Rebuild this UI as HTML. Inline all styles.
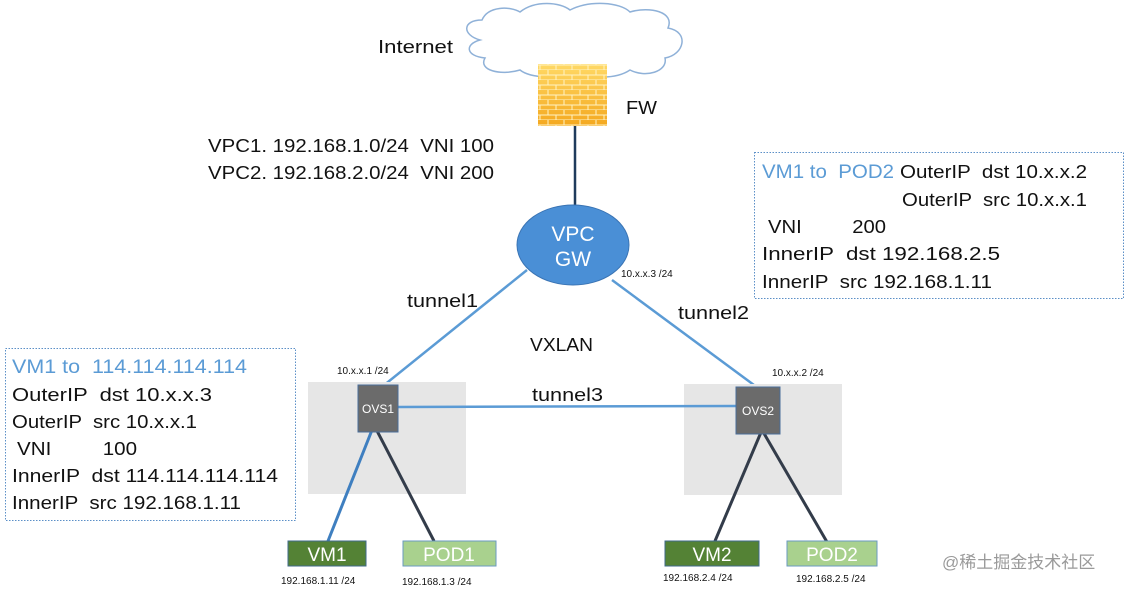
<!DOCTYPE html>
<html><head><meta charset="utf-8"><style>
body{margin:0;background:#fff;}
svg{display:block;font-family:"Liberation Sans","Noto Sans CJK SC",sans-serif;}
text{white-space:pre;}
</style></head><body>
<svg width="1128" height="590" viewBox="0 0 1128 590" xml:space="preserve">
<defs>
<linearGradient id="fw" x1="0" y1="0" x2="0" y2="1"><stop offset="0" stop-color="#ffd966"/><stop offset="1" stop-color="#f4a81f"/></linearGradient>
<pattern id="brick" width="16" height="10" patternUnits="userSpaceOnUse">
<path d="M0 5H16M0 10H16M4 0V5M12 5V10" stroke="#fff3c4" stroke-width="1" fill="none"/>
</pattern>
</defs>
<path d="M480 40 C462 35 462 20 482 20 C488 6 510 6 520 12 C535 0 560 2 570 10 C590 0 620 2 630 12 C650 6 675 12 668 28 C690 32 684 55 665 58 C668 72 645 78 630 70 C615 80 590 78 580 72 C560 80 530 78 520 70 C500 76 478 70 485 58 C465 56 465 44 480 40 Z" fill="#fff" stroke="#8fb1d8" stroke-width="1.5"/>
<text x="378" y="53" font-size="18" fill="#111" textLength="75" lengthAdjust="spacingAndGlyphs">Internet</text>
<rect x="538" y="64" width="69" height="62" fill="url(#fw)"/>
<rect x="538" y="64" width="69" height="62" fill="url(#brick)"/>
<text x="626" y="114" font-size="18" fill="#111" textLength="31" lengthAdjust="spacingAndGlyphs">FW</text>
<line x1="575" y1="126" x2="575" y2="206" stroke="#1f3b5c" stroke-width="2.5"/>
<text x="208" y="152" font-size="18" fill="#111" textLength="286" lengthAdjust="spacingAndGlyphs">VPC1. 192.168.1.0/24  VNI 100</text>
<text x="208" y="179" font-size="18" fill="#111" textLength="286" lengthAdjust="spacingAndGlyphs">VPC2. 192.168.2.0/24  VNI 200</text>
<line x1="527" y1="270" x2="383" y2="386" stroke="#5b9bd5" stroke-width="2.5"/>
<line x1="612" y1="280" x2="758" y2="388" stroke="#5b9bd5" stroke-width="2.5"/>
<ellipse cx="573" cy="245" rx="56" ry="40" fill="#4a8fd6" stroke="#3a74b4" stroke-width="1"/>
<text x="573" y="241" font-size="21" fill="#fff" text-anchor="middle">VPC</text>
<text x="573" y="266" font-size="21" fill="#fff" text-anchor="middle">GW</text>
<text x="621" y="277" font-size="10" fill="#111">10.x.x.3 /24</text>
<text x="407" y="307" font-size="18" fill="#111" textLength="71" lengthAdjust="spacingAndGlyphs">tunnel1</text>
<text x="678" y="319" font-size="18" fill="#111" textLength="71" lengthAdjust="spacingAndGlyphs">tunnel2</text>
<text x="530" y="351" font-size="18" fill="#111" textLength="63" lengthAdjust="spacingAndGlyphs">VXLAN</text>
<rect x="308" y="382" width="158" height="112" fill="#e6e6e6"/>
<rect x="684" y="384" width="158" height="111" fill="#e6e6e6"/>
<text x="337" y="374" font-size="10" fill="#111">10.x.x.1 /24</text>
<text x="772" y="376" font-size="10" fill="#111">10.x.x.2 /24</text>
<line x1="398" y1="407" x2="736" y2="406" stroke="#5b9bd5" stroke-width="2.5"/>
<text x="532" y="401" font-size="18" fill="#111" textLength="71" lengthAdjust="spacingAndGlyphs">tunnel3</text>
<line x1="374" y1="425" x2="328" y2="541" stroke="#3f7fc0" stroke-width="3"/>
<line x1="374" y1="425" x2="434" y2="541" stroke="#333c4a" stroke-width="3"/>
<line x1="762" y1="430" x2="715" y2="541" stroke="#333c4a" stroke-width="3"/>
<line x1="762" y1="430" x2="827" y2="542" stroke="#333c4a" stroke-width="3"/>
<rect x="358" y="385" width="40" height="47" fill="#6b6b6b" stroke="#4a6d9a" stroke-width="1"/>
<text x="378" y="413" font-size="12" fill="#fff" text-anchor="middle">OVS1</text>
<rect x="736" y="387" width="44" height="47" fill="#6b6b6b" stroke="#4a6d9a" stroke-width="1"/>
<text x="758" y="415" font-size="12" fill="#fff" text-anchor="middle">OVS2</text>
<rect x="288" y="541" width="78" height="25" fill="#548235" stroke="#3f6a8a" stroke-width="1"/>
<text x="327" y="561" font-size="19" fill="#fff" text-anchor="middle">VM1</text>
<rect x="403" y="541" width="93" height="25" fill="#a9d18e" stroke="#6a9ac0" stroke-width="1"/>
<text x="449" y="561" font-size="19" fill="#fff" text-anchor="middle">POD1</text>
<rect x="665" y="541" width="94" height="25" fill="#548235" stroke="#3f6a8a" stroke-width="1"/>
<text x="712" y="561" font-size="19" fill="#fff" text-anchor="middle">VM2</text>
<rect x="787" y="541" width="90" height="25" fill="#a9d18e" stroke="#6a9ac0" stroke-width="1"/>
<text x="832" y="561" font-size="19" fill="#fff" text-anchor="middle">POD2</text>
<text x="281" y="584" font-size="10" fill="#111">192.168.1.11 /24</text>
<text x="402" y="585" font-size="10" fill="#111">192.168.1.3 /24</text>
<text x="663" y="581" font-size="10" fill="#111">192.168.2.4 /24</text>
<text x="796" y="582" font-size="10" fill="#111">192.168.2.5 /24</text>
<rect x="5.5" y="348.5" width="290" height="172" fill="none" stroke="#5b8fc7" stroke-width="1" stroke-dasharray="1.5 1.5"/>
<text x="12" y="373" font-size="19" fill="#5b9bd5" textLength="235" lengthAdjust="spacingAndGlyphs">VM1 to  114.114.114.114</text>
<g font-size="18" fill="#111">
<text x="12" y="401" textLength="200" lengthAdjust="spacingAndGlyphs">OuterIP  dst 10.x.x.3</text>
<text x="12" y="428" textLength="185" lengthAdjust="spacingAndGlyphs">OuterIP  src 10.x.x.1</text>
<text x="17" y="455" textLength="120" lengthAdjust="spacingAndGlyphs">VNI         100</text>
<text x="12" y="482" textLength="266" lengthAdjust="spacingAndGlyphs">InnerIP  dst 114.114.114.114</text>
<text x="12" y="509" textLength="229" lengthAdjust="spacingAndGlyphs">InnerIP  src 192.168.1.11</text>
</g>
<rect x="754.5" y="152.5" width="369" height="146" fill="none" stroke="#5b8fc7" stroke-width="1" stroke-dasharray="1.5 1.5"/>
<text x="762" y="178" font-size="19" fill="#5b9bd5" textLength="132" lengthAdjust="spacingAndGlyphs">VM1 to  POD2</text>
<g font-size="18" fill="#111">
<text x="900" y="178" textLength="187" lengthAdjust="spacingAndGlyphs">OuterIP  dst 10.x.x.2</text>
<text x="902" y="206" textLength="185" lengthAdjust="spacingAndGlyphs">OuterIP  src 10.x.x.1</text>
<text x="768" y="233" textLength="118" lengthAdjust="spacingAndGlyphs">VNI         200</text>
<text x="762" y="260" textLength="238" lengthAdjust="spacingAndGlyphs">InnerIP  dst 192.168.2.5</text>
<text x="762" y="288" textLength="230" lengthAdjust="spacingAndGlyphs">InnerIP  src 192.168.1.11</text>
</g>
<text x="942" y="568" font-size="17" fill="#9a9a9a">@稀土掘金技术社区</text>
</svg>
</body></html>
